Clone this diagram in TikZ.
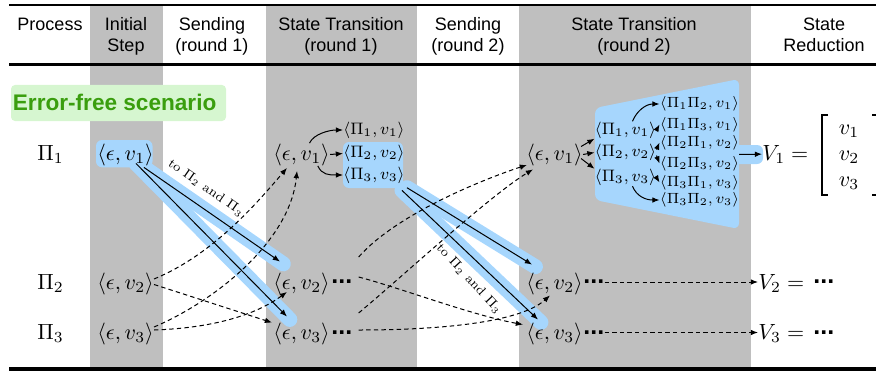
\RequirePackage{fix-cm}
\documentclass[tikz,border=0pt]{standalone}
\usepackage[no-math]{fontspec}
\setsansfont{Liberation Sans}
\usetikzlibrary{arrows.meta,calc}

\definecolor{colgray}{RGB}{191,191,191}
\definecolor{hlblue}{RGB}{166,214,253}
\definecolor{okgreen}{RGB}{58,158,14}
\definecolor{okbg}{RGB}{214,246,208}

\pgfdeclarelayer{back}
\pgfdeclarelayer{glow}
\pgfsetlayers{back,glow,main}

\tikzset{
  hdrtext/.style={font=\sffamily\fontsize{9}{10.5}\selectfont, align=center, anchor=base, inner sep=0pt},
  rowmath/.style={font=\fontsize{11}{13}\selectfont, anchor=base west, inner sep=0pt},
  submath/.style={font=\fontsize{8.3}{10}\selectfont, inner sep=0pt},
  subsubmath/.style={font=\fontsize{7.4}{9}\selectfont, inner sep=0pt},
  dotsmark/.style={font=\sffamily\bfseries\fontsize{12.5}{13}\selectfont, inner sep=0pt, anchor=west},
  sendnote/.style={font=\fontsize{6.5}{7}\selectfont, inner sep=0pt},
  tiparrow/.style={-{Latex[length=3.6pt,width=2.8pt]}},
  msg/.style={tiparrow, line width=0.5pt},
  dmsg/.style={tiparrow, line width=0.5pt, dash pattern=on 2.2pt off 1.6pt},
  glowline/.style={hlblue, line width=7.5pt, line cap=round, shorten >=-2pt},
}

\begin{document}
\begin{tikzpicture}[x=0.5pt,y=-0.5pt]
\useasboundingbox (0,0) rectangle (876,374);

% shaded columns and table rules
\begin{pgfonlayer}{back}
  \fill[colgray] (90,6) rectangle (163,367);
  \fill[colgray] (266,6) rectangle (417,367);
  \fill[colgray] (519,6) rectangle (751,367);
  \fill[okbg, rounded corners=2pt] (11,85) rectangle (226,121);
\end{pgfonlayer}
\draw[line width=1pt] (9,5) -- (876,5);
\draw[line width=1.5pt] (9,64.5) -- (876,64.5);
\draw[line width=2pt] (9,369) -- (876,369);

% column headers (base = baseline of the last line)
\node[hdrtext] (hProc) at (50,30.7) {Process};
\node[hdrtext] (hInit) at (126,51.7) {Initial\\Step};
\node[hdrtext] (hSendA) at (212,51.7) {Sending\\(round 1)};
\node[hdrtext] (hStA) at (341,51.7) {State Transition\\(round 1)};
\node[hdrtext] (hSendB) at (468,51.7) {Sending\\(round 2)};
\node[hdrtext] (hStB) at (634,51.7) {State Transition\\(round 2)};
\node[hdrtext] (hRed) at (824,51.7) {State\\Reduction};

\node[font=\sffamily\bfseries\fontsize{11.3}{13}\selectfont, text=okgreen, anchor=base west, inner sep=0pt] (scen) at (12.5,110.7) {Error-free scenario};

% process labels
\node[rowmath] (P1) at (37,160) {$\Pi_1$};
\node[rowmath] (P2) at (37,289) {$\Pi_2$};
\node[rowmath] (P3) at (37,339.5) {$\Pi_3$};

% initial states
\node[rowmath] (i1) at (97,160) {$\langle\epsilon, v_1\rangle$};
\node[rowmath] (i2) at (97,289) {$\langle\epsilon, v_2\rangle$};
\node[rowmath] (i3) at (97,339.5) {$\langle\epsilon, v_3\rangle$};

% round 1
\node[rowmath] (a1) at (273,160) {$\langle\epsilon, v_1\rangle$};
\node[rowmath] (a2) at (273,289) {$\langle\epsilon, v_2\rangle$};
\node[rowmath] (a3) at (273,339.5) {$\langle\epsilon, v_3\rangle$};
\node[dotsmark] (ad2) at (331,282) {...};
\node[dotsmark] (ad3) at (331,332.5) {...};
\node[submath] (s1) at (374,130) {$\langle\Pi_1, v_1\rangle$};
\node[submath] (s2) at (374,153.5) {$\langle\Pi_2, v_2\rangle$};
\node[submath] (s3) at (374,175) {$\langle\Pi_3, v_3\rangle$};

% round 2
\node[rowmath] (b1) at (526,160) {$\langle\epsilon, v_1\rangle$};
\node[rowmath] (b2) at (526,289) {$\langle\epsilon, v_2\rangle$};
\node[rowmath] (b3) at (526,339.5) {$\langle\epsilon, v_3\rangle$};
\node[dotsmark] (bd2) at (583,282) {...};
\node[dotsmark] (bd3) at (583,332.5) {...};
\node[submath] (t1) at (625.5,130) {$\langle\Pi_1, v_1\rangle$};
\node[submath] (t2) at (625.5,152.5) {$\langle\Pi_2, v_2\rangle$};
\node[submath] (t3) at (625.5,177.5) {$\langle\Pi_3, v_3\rangle$};
\node[subsubmath] (u12) at (699.5,104) {$\langle\Pi_1\Pi_2, v_1\rangle$};
\node[subsubmath] (u13) at (699.5,124.5) {$\langle\Pi_1\Pi_3, v_1\rangle$};
\node[subsubmath] (u21) at (699.5,142.5) {$\langle\Pi_2\Pi_1, v_2\rangle$};
\node[subsubmath] (u23) at (699.5,163.5) {$\langle\Pi_2\Pi_3, v_2\rangle$};
\node[subsubmath] (u31) at (699.5,182.5) {$\langle\Pi_3\Pi_1, v_3\rangle$};
\node[subsubmath] (u32) at (699.5,200) {$\langle\Pi_3\Pi_2, v_3\rangle$};

% state reduction
\node[rowmath] (V1) at (762,160) {$V_1 =$};
\node[rowmath, anchor=base] (m1) at (849,134) {$v_1$};
\node[rowmath, anchor=base] (m2) at (849,160) {$v_2$};
\node[rowmath, anchor=base] (m3) at (849,186) {$v_3$};
\draw[line width=0.6pt] (828,115) -- (822,115) -- (822,195) -- (828,195);
\draw[line width=0.6pt] (872,115) -- (879,115) -- (879,195) -- (872,195);
\node[rowmath] (V2) at (758,289) {$V_2 =$};
\node[dotsmark] (V2d) at (813,282) {...};
\node[rowmath] (V3) at (758,339.5) {$V_3 =$};
\node[dotsmark] (V3d) at (813,333) {...};

% message end points
\coordinate (L1s) at ($(i1.south)+(10.4,-2.5)$);
\coordinate (L2s) at ($(i1.south)+(18.4,1.5)$);
\coordinate (L1e) at ($(a3.north west)+(14,-6)$);
\coordinate (L2e) at ($(a2.north west)+(7,-10.5)$);
\coordinate (M1s) at ($(s3.south east)+(2,4)$);
\coordinate (M2s) at ($(s3.south east)+(-3,6.7)$);
\coordinate (M1e) at ($(b2.north west)+(6,-7.5)$);
\coordinate (M2e) at ($(b3.north west)+(12,-3)$);
\coordinate (trap) at (739,154.5);

% highlighted path of the value v1
\begin{pgfonlayer}{glow}
  \fill[hlblue, rounded corners=3pt] (96,140) rectangle (152.5,167.3);
  \draw[glowline] (L1s) -- (L1e);
  \draw[glowline] (L2s) -- (L2e);
  \fill[hlblue, rounded corners=3pt] (343,142) rectangle (403,188);
  \draw[glowline] (M1s) -- (M1e);
  \draw[glowline] (M2s) -- (M2e);
  \fill[hlblue, rounded corners=3pt] (595,108) -- (739,79) -- (739,229) -- (595,200) -- cycle;
  \fill[hlblue, rounded corners=3pt] (730,145) rectangle (763,164);
\end{pgfonlayer}

% round 1: broadcast of v1 and received values
\draw[msg] (L1s) -- (L1e);
\draw[msg] (L2s) -- (L2e);
\node[sendnote, rotate=-35] (n1) at (206,188) {to $\Pi_2$ and $\Pi_3$};
\draw[dmsg] ($(i2.east)+(0,-4.5)$) .. controls +(58,-24) and +(-32,37.5) .. ($(a1.south west)+(14,2)$);
\draw[dmsg] ($(i3.east)+(0,-7)$) .. controls +(63,-27) and +(-7,69.5) .. ($(a1.south west)+(24,5)$);
\draw[dmsg] ($(i2.east)+(0,1)$) -- ($(a3.north west)+(-1,0)$);
\draw[dmsg] ($(i3.east)+(0,-4)$) .. controls +(58,-2) and +(-32,23.5) .. ($(a2.south west)+(14,-3)$);

\draw[msg] (a1.55) .. controls +(4,-9) and +(-14,0) .. (s1.west);
\draw[msg] (a1.east) -- (s2.west);
\draw[msg] (a1.-35) .. controls +(4,9) and +(-14,0) .. (s3.west);

% round 2
\draw[msg] (M1s) -- (M1e);
\draw[msg] (M2s) -- (M2e);
\node[sendnote, rotate=-47] (n2) at (469,279) {to $\Pi_2$ and $\Pi_3$};
\draw[dmsg] ($(ad2.east)+(6,-25)$) .. controls +(37,-42) and +(-47,15.5) .. ($(b1.south west)+(1,-1)$);
\draw[dmsg] ($(ad3.east)+(6,-19.5)$) .. controls +(42,-35) and +(-43,26) .. ($(b1.south west)+(7,3.5)$);
\draw[dmsg] ($(ad2.east)+(6,-5)$) .. controls +(42,11) and +(-53,-10) .. ($(b3.north west)+(-3,2)$);
\draw[dmsg] ($(ad3.east)+(6,-2.5)$) .. controls +(82,0) and +(-30,27) .. ($(b2.south west)+(24,0.5)$);

\draw[msg] ($(b1.east)+(-2,-8)$) -- (t1.south west);
\draw[msg] (b1.east) -- (t2.west);
\draw[msg] ($(b1.east)+(-2,4)$) -- (t3.north west);
\draw[msg] ($(t1.north)+(7,0)$) .. controls +(4,-10) and +(-14,0) .. (u12.west);
\draw[msg] (t1.east) -- (u13.west);
\draw[msg] ($(t2.east)+(0,-3)$) -- (u21.west);
\draw[msg] ($(t2.east)+(0,3)$) -- (u23.west);
\draw[msg] (t3.east) -- (u31.west);
\draw[msg] ($(t3.south)+(7,0)$) .. controls +(4,10) and +(-14,0) .. (u32.west);

% reduction
\draw[msg] (trap) -- (V1.west);
\draw[dmsg] (bd2.east) -- (bd2.east -| V2.west);
\draw[dmsg] (bd3.east) -- (bd3.east -| V3.west);
\end{tikzpicture}
\end{document}
